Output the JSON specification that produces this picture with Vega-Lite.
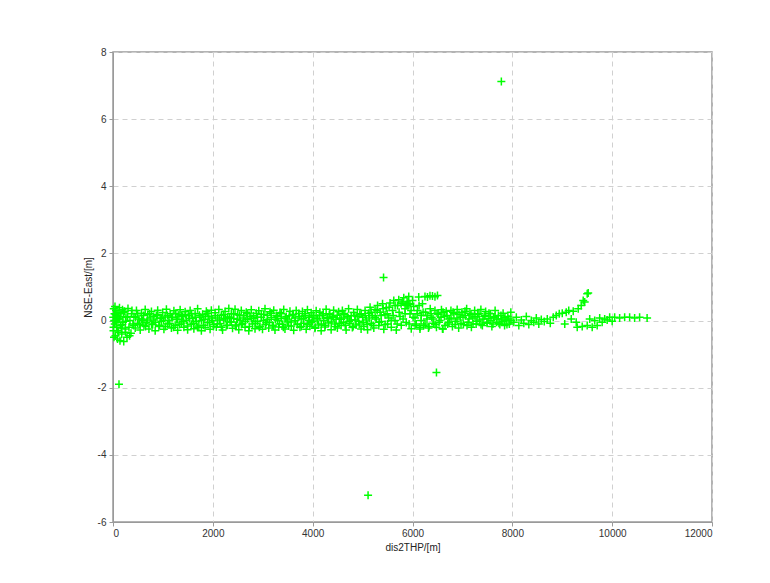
{
  "$schema": "https://vega.github.io/schema/vega-lite/v6.json",
  "width": 599,
  "height": 470,
  "autosize": "none",
  "padding": {"left": 113, "top": 52, "right": 58, "bottom": 61},
  "background": "white",
  "config": {
    "view": {"stroke": "#9a9a9a", "strokeWidth": 1.5},
    "axis": {
      "labelFont": "Liberation Sans",
      "titleFont": "Liberation Sans",
      "labelFontSize": 10,
      "titleFontSize": 10,
      "labelColor": "#333",
      "titleColor": "#222",
      "titleFontWeight": "normal",
      "domainColor": "#9a9a9a",
      "tickColor": "#9a9a9a",
      "tickSize": 4,
      "gridColor": "#d0d0d0",
      "gridDash": [5, 4],
      "gridWidth": 1
    }
  },
  "data": {"values": [
    {"d":5,"e":0.1},{"d":10,"e":-0.3},{"d":15,"e":0.35},{"d":20,"e":-0.5},{"d":30,"e":0.2},{"d":35,"e":-0.1},{"d":40,"e":0.42},{"d":50,"e":-0.45},{"d":55,"e":0.0},{"d":60,"e":0.3},{"d":70,"e":-0.2},{"d":80,"e":0.15},{"d":90,"e":-0.55},{"d":100,"e":0.25},{"d":110,"e":-0.35},{"d":120,"e":0.05},{"d":130,"e":0.38},{"d":140,"e":-0.6},{"d":150,"e":-0.15},{"d":160,"e":0.2},{"d":175,"e":-0.4},{"d":190,"e":0.32},{"d":200,"e":-0.05},{"d":215,"e":-0.62},{"d":230,"e":0.28},{"d":245,"e":-0.25},{"d":260,"e":0.1},{"d":280,"e":-0.5},{"d":300,"e":0.36},{"d":320,"e":-0.2},{"d":340,"e":0.0},{"d":360,"e":-0.38},{"d":380,"e":0.3},{"d":400,"e":-0.1},{"d":25,"e":0.0},{"d":65,"e":-0.05},{"d":95,"e":0.08},{"d":145,"e":0.12},{"d":185,"e":-0.12},{"d":250,"e":-0.02},
    {"d":420,"e":0.12},{"d":445,"e":-0.22},{"d":470,"e":0.3},{"d":495,"e":-0.08},{"d":520,"e":0.05},{"d":545,"e":-0.28},{"d":570,"e":0.22},{"d":595,"e":0.0},{"d":620,"e":-0.15},{"d":645,"e":0.33},{"d":670,"e":-0.05},{"d":695,"e":0.18},{"d":720,"e":-0.25},{"d":745,"e":0.08},{"d":770,"e":0.27},{"d":795,"e":-0.12},{"d":820,"e":0.02},{"d":845,"e":-0.3},{"d":870,"e":0.15},{"d":895,"e":0.31},{"d":920,"e":-0.18},{"d":945,"e":0.06},{"d":970,"e":-0.02},{"d":995,"e":0.24},
    {"d":1020,"e":-0.26},{"d":1045,"e":0.11},{"d":1070,"e":0.34},{"d":1095,"e":-0.1},{"d":1120,"e":0.0},{"d":1145,"e":0.2},{"d":1170,"e":-0.22},{"d":1195,"e":0.09},{"d":1220,"e":0.29},{"d":1245,"e":-0.14},{"d":1270,"e":0.03},{"d":1295,"e":-0.29},{"d":1320,"e":0.17},{"d":1345,"e":0.32},{"d":1370,"e":-0.07},{"d":1395,"e":0.12},{"d":1420,"e":-0.2},{"d":1445,"e":0.26},{"d":1470,"e":0.01},{"d":1495,"e":-0.27},{"d":1520,"e":0.14},{"d":1545,"e":0.3},{"d":1570,"e":-0.11},{"d":1595,"e":0.07},{"d":1620,"e":-0.24},{"d":1645,"e":0.21},{"d":1670,"e":-0.03},{"d":1695,"e":0.35},{"d":1720,"e":-0.16},{"d":1745,"e":0.1},{"d":1770,"e":-0.3},{"d":1795,"e":0.19},{"d":1820,"e":0.04},{"d":1845,"e":-0.21},{"d":1870,"e":0.28},{"d":1895,"e":-0.06},{"d":1920,"e":0.13},{"d":1945,"e":-0.26},{"d":1970,"e":0.31},{"d":1995,"e":0.0},
    {"d":2020,"e":-0.12},{"d":2045,"e":0.23},{"d":2070,"e":-0.19},{"d":2095,"e":0.08},{"d":2120,"e":0.33},{"d":2145,"e":-0.09},{"d":2170,"e":0.16},{"d":2195,"e":-0.28},{"d":2220,"e":0.02},{"d":2245,"e":0.27},{"d":2270,"e":-0.15},{"d":2295,"e":0.11},{"d":2320,"e":0.36},{"d":2345,"e":-0.04},{"d":2370,"e":0.2},{"d":2395,"e":-0.23},{"d":2420,"e":0.06},{"d":2445,"e":0.34},{"d":2470,"e":-0.13},{"d":2495,"e":0.18},{"d":2520,"e":-0.27},{"d":2545,"e":0.0},{"d":2570,"e":0.3},{"d":2595,"e":-0.08},{"d":2620,"e":0.14},{"d":2645,"e":-0.2},{"d":2670,"e":0.25},{"d":2695,"e":0.04},{"d":2720,"e":-0.3},{"d":2745,"e":0.12},{"d":2770,"e":0.32},{"d":2795,"e":-0.1},{"d":2820,"e":0.07},{"d":2845,"e":-0.24},{"d":2870,"e":0.22},{"d":2895,"e":-0.02},{"d":2920,"e":0.29},{"d":2945,"e":-0.17},{"d":2970,"e":0.1},{"d":2995,"e":-0.26},
    {"d":3020,"e":0.19},{"d":3045,"e":0.35},{"d":3070,"e":-0.06},{"d":3095,"e":0.03},{"d":3120,"e":-0.22},{"d":3145,"e":0.26},{"d":3170,"e":0.09},{"d":3195,"e":-0.14},{"d":3220,"e":0.31},{"d":3245,"e":-0.28},{"d":3270,"e":0.15},{"d":3295,"e":0.0},{"d":3320,"e":-0.19},{"d":3345,"e":0.24},{"d":3370,"e":0.06},{"d":3395,"e":-0.11},{"d":3420,"e":0.33},{"d":3445,"e":-0.25},{"d":3470,"e":0.12},{"d":3495,"e":0.02},{"d":3520,"e":-0.16},{"d":3545,"e":0.28},{"d":3570,"e":-0.04},{"d":3595,"e":0.17},{"d":3620,"e":-0.29},{"d":3645,"e":0.08},{"d":3670,"e":0.3},{"d":3695,"e":-0.12},{"d":3720,"e":0.21},{"d":3745,"e":-0.2},{"d":3770,"e":0.05},{"d":3795,"e":0.27},{"d":3820,"e":-0.08},{"d":3845,"e":0.14},{"d":3870,"e":-0.26},{"d":3895,"e":0.32},{"d":3920,"e":0.01},{"d":3945,"e":-0.17},{"d":3970,"e":0.23},{"d":3995,"e":-0.03},
    {"d":4020,"e":0.11},{"d":4045,"e":-0.23},{"d":4070,"e":0.29},{"d":4095,"e":0.07},{"d":4120,"e":-0.13},{"d":4145,"e":0.25},{"d":4170,"e":-0.3},{"d":4195,"e":0.16},{"d":4220,"e":0.0},{"d":4245,"e":-0.19},{"d":4270,"e":0.34},{"d":4295,"e":0.1},{"d":4320,"e":-0.07},{"d":4345,"e":0.2},{"d":4370,"e":-0.27},{"d":4395,"e":0.13},{"d":4420,"e":0.31},{"d":4445,"e":-0.1},{"d":4470,"e":0.04},{"d":4495,"e":-0.22},{"d":4520,"e":0.26},{"d":4545,"e":0.08},{"d":4570,"e":-0.15},{"d":4595,"e":0.3},{"d":4620,"e":-0.05},{"d":4645,"e":0.18},{"d":4670,"e":-0.28},{"d":4695,"e":0.12},{"d":4720,"e":0.35},{"d":4745,"e":-0.09},{"d":4770,"e":0.02},{"d":4795,"e":-0.21},{"d":4820,"e":0.24},{"d":4845,"e":0.15},{"d":4870,"e":-0.13},{"d":4895,"e":0.33},{"d":4920,"e":-0.02},{"d":4945,"e":0.19},{"d":4970,"e":-0.25},
    {"d":5000,"e":0.1},{"d":5025,"e":-0.18},{"d":5050,"e":0.3},{"d":5075,"e":0.02},{"d":5100,"e":-0.27},{"d":5125,"e":0.22},{"d":5150,"e":0.4},{"d":5175,"e":-0.08},{"d":5200,"e":0.14},{"d":5225,"e":-0.22},{"d":5250,"e":0.33},{"d":5275,"e":0.05},{"d":5300,"e":0.45},{"d":5325,"e":-0.15},{"d":5350,"e":0.25},{"d":5375,"e":-0.03},{"d":5400,"e":0.5},{"d":5425,"e":-0.26},{"d":5450,"e":0.17},{"d":5475,"e":0.38},{"d":5500,"e":-0.1},{"d":5525,"e":0.08},{"d":5550,"e":0.52},{"d":5575,"e":-0.2},{"d":5600,"e":0.3},{"d":5625,"e":0.6},{"d":5650,"e":0.0},{"d":5675,"e":-0.28},{"d":5700,"e":0.45},{"d":5725,"e":0.62},{"d":5750,"e":0.12},{"d":5775,"e":-0.14},{"d":5800,"e":0.55},{"d":5825,"e":0.68},{"d":5850,"e":0.35},{"d":5875,"e":-0.06},{"d":5900,"e":0.5},{"d":5925,"e":0.72},{"d":5950,"e":0.2},{"d":5975,"e":-0.24},{"d":6000,"e":0.6},{"d":6025,"e":0.42},{"d":6050,"e":0.08},{"d":6075,"e":-0.1},{"d":6100,"e":0.3},{"d":6125,"e":0.7},{"d":6150,"e":-0.2},{"d":6175,"e":0.15},{"d":6200,"e":0.5},
    {"d":6250,"e":0.72},{"d":6300,"e":0.7},{"d":6350,"e":0.74},{"d":6400,"e":0.73},{"d":6450,"e":0.71},{"d":6500,"e":0.75},{"d":5870,"e":0.48},{"d":5890,"e":0.45},{"d":5910,"e":0.5},{"d":5930,"e":0.47},
    {"d":6225,"e":-0.15},{"d":6260,"e":0.25},{"d":6290,"e":0.05},{"d":6320,"e":-0.22},{"d":6355,"e":0.35},{"d":6385,"e":0.1},{"d":6420,"e":-0.08},{"d":6450,"e":0.3},{"d":6480,"e":-0.2},{"d":6515,"e":0.18},{"d":6545,"e":0.0},{"d":6580,"e":0.32},{"d":6610,"e":-0.25},{"d":6640,"e":0.12},{"d":6675,"e":0.28},{"d":6705,"e":-0.1},{"d":6735,"e":0.05},{"d":6770,"e":0.3},{"d":6800,"e":-0.18},{"d":6830,"e":0.2},{"d":6865,"e":-0.02},{"d":6895,"e":0.33},{"d":6925,"e":-0.22},{"d":6960,"e":0.1},{"d":6990,"e":0.25},{"d":7020,"e":-0.12},{"d":7055,"e":0.15},{"d":7085,"e":0.35},{"d":7115,"e":-0.05},{"d":7150,"e":0.22},{"d":7180,"e":-0.2},{"d":7210,"e":0.08},{"d":7245,"e":0.3},{"d":7275,"e":-0.1},{"d":7305,"e":0.18},{"d":7340,"e":0.02},{"d":7370,"e":0.33},{"d":7400,"e":-0.15},{"d":7435,"e":0.12},{"d":7465,"e":0.27},{"d":7495,"e":-0.08},{"d":7530,"e":0.06},{"d":7560,"e":0.2},{"d":7590,"e":-0.18},{"d":7625,"e":0.1},{"d":7655,"e":0.3},{"d":7685,"e":-0.05},{"d":7720,"e":0.15},{"d":7750,"e":-0.12},{"d":7780,"e":0.05},{"d":7815,"e":0.22},{"d":7845,"e":-0.15},{"d":7875,"e":0.0},{"d":7910,"e":0.12},{"d":7940,"e":-0.1},{"d":7970,"e":0.25},{"d":6150,"e":-0.25},{"d":6600,"e":-0.24},
    {"d":8030,"e":-0.05},{"d":8080,"e":0.1},{"d":8130,"e":-0.15},{"d":8180,"e":0.02},{"d":8230,"e":-0.08},{"d":8280,"e":0.12},{"d":8330,"e":-0.12},{"d":8380,"e":0.0},{"d":8430,"e":-0.05},{"d":8480,"e":0.08},{"d":8530,"e":-0.1},{"d":8580,"e":0.03},{"d":8640,"e":-0.03},{"d":8700,"e":0.05},{"d":8760,"e":-0.08},{"d":8820,"e":0.1},{"d":8880,"e":0.15},{"d":8940,"e":0.2},{"d":9000,"e":0.22},{"d":9050,"e":-0.1},{"d":9080,"e":0.25},{"d":9130,"e":0.3},{"d":9180,"e":0.05},{"d":9220,"e":0.28},{"d":9280,"e":-0.05},{"d":9320,"e":0.35},{"d":9380,"e":0.45},{"d":9420,"e":0.6},{"d":9450,"e":0.55},{"d":9500,"e":0.8},{"d":9520,"e":0.82},{"d":9300,"e":-0.2},{"d":9400,"e":-0.18},{"d":9500,"e":-0.15},{"d":9600,"e":-0.2},{"d":9700,"e":-0.15},
    {"d":9550,"e":0.05},{"d":9650,"e":0.0},{"d":9750,"e":0.08},{"d":9850,"e":0.05},{"d":9950,"e":0.1},{"d":10050,"e":0.1},{"d":10150,"e":0.08},{"d":10250,"e":0.1},{"d":10350,"e":0.1},{"d":10450,"e":0.08},{"d":10550,"e":0.1},{"d":10700,"e":0.08},{"d":9800,"e":-0.05},{"d":9900,"e":0.02},{"d":10000,"e":-0.02},
    {"d":7780,"e":7.12},{"d":5420,"e":1.28},{"d":6480,"e":-1.55},{"d":5110,"e":-5.2},{"d":120,"e":-1.9},
    {"d":12,"e":-0.2},{"d":52,"e":0.18},{"d":92,"e":-0.3},{"d":132,"e":0.05},{"d":172,"e":-0.22},{"d":212,"e":0.25},{"d":252,"e":-0.35},{"d":292,"e":0.12},{"d":332,"e":-0.45},{"d":372,"e":0.2},{"d":412,"e":-0.15},{"d":452,"e":0.1},{"d":492,"e":0.2},{"d":532,"e":-0.12},{"d":572,"e":0.05},{"d":612,"e":0.15},{"d":652,"e":-0.18},{"d":692,"e":0.02},{"d":732,"e":0.2},{"d":772,"e":-0.1},{"d":812,"e":0.12},{"d":852,"e":-0.05},{"d":892,"e":0.18},{"d":932,"e":-0.14},{"d":972,"e":0.08},
    {"d":1012,"e":0.0},{"d":1052,"e":-0.18},{"d":1092,"e":0.15},{"d":1132,"e":-0.08},{"d":1172,"e":0.1},{"d":1212,"e":-0.2},{"d":1252,"e":0.22},{"d":1292,"e":0.04},{"d":1332,"e":-0.12},{"d":1372,"e":0.14},{"d":1412,"e":-0.02},{"d":1452,"e":0.18},{"d":1492,"e":-0.16},{"d":1532,"e":0.06},{"d":1572,"e":0.2},{"d":1612,"e":-0.08},{"d":1652,"e":0.1},{"d":1692,"e":-0.2},{"d":1732,"e":0.16},{"d":1772,"e":0.0},{"d":1812,"e":-0.14},{"d":1852,"e":0.12},{"d":1892,"e":0.22},{"d":1932,"e":-0.06},{"d":1972,"e":0.08},
    {"d":2012,"e":-0.18},{"d":2052,"e":0.14},{"d":2092,"e":-0.1},{"d":2132,"e":0.02},{"d":2172,"e":-0.2},{"d":2212,"e":0.18},{"d":2252,"e":0.06},{"d":2292,"e":-0.14},{"d":2332,"e":0.1},{"d":2372,"e":-0.04},{"d":2412,"e":0.2},{"d":2452,"e":-0.16},{"d":2492,"e":0.04},{"d":2532,"e":0.16},{"d":2572,"e":-0.12},{"d":2612,"e":0.08},{"d":2652,"e":-0.02},{"d":2692,"e":0.2},{"d":2732,"e":-0.18},{"d":2772,"e":0.06},{"d":2812,"e":0.14},{"d":2852,"e":-0.08},{"d":2892,"e":0.1},{"d":2932,"e":-0.2},{"d":2972,"e":0.18},
    {"d":3012,"e":0.0},{"d":3052,"e":-0.12},{"d":3092,"e":0.16},{"d":3132,"e":-0.06},{"d":3172,"e":0.22},{"d":3212,"e":-0.16},{"d":3252,"e":0.04},{"d":3292,"e":0.12},{"d":3332,"e":-0.1},{"d":3372,"e":0.2},{"d":3412,"e":-0.2},{"d":3452,"e":0.08},{"d":3492,"e":-0.04},{"d":3532,"e":0.14},{"d":3572,"e":-0.16},{"d":3612,"e":0.18},{"d":3652,"e":0.0},{"d":3692,"e":-0.1},{"d":3732,"e":0.12},{"d":3772,"e":-0.18},{"d":3812,"e":0.06},{"d":3852,"e":0.2},{"d":3892,"e":-0.12},{"d":3932,"e":0.1},{"d":3972,"e":-0.06},
    {"d":4012,"e":0.16},{"d":4052,"e":-0.2},{"d":4092,"e":0.02},{"d":4132,"e":0.14},{"d":4172,"e":-0.1},{"d":4212,"e":0.2},{"d":4252,"e":-0.14},{"d":4292,"e":0.06},{"d":4332,"e":0.18},{"d":4372,"e":-0.04},{"d":4412,"e":0.1},{"d":4452,"e":-0.18},{"d":4492,"e":0.16},{"d":4532,"e":-0.08},{"d":4572,"e":0.04},{"d":4612,"e":0.2},{"d":4652,"e":-0.14},{"d":4692,"e":0.08},{"d":4732,"e":-0.02},{"d":4772,"e":0.14},{"d":4812,"e":-0.18},{"d":4852,"e":0.02},{"d":4892,"e":0.12},{"d":4932,"e":-0.1},{"d":4972,"e":0.2},
    {"d":5012,"e":-0.05},{"d":5052,"e":0.15},{"d":5092,"e":-0.12},{"d":5132,"e":0.08},{"d":5172,"e":0.25},{"d":5212,"e":-0.15},{"d":5252,"e":0.1},{"d":5292,"e":0.3},{"d":5332,"e":-0.05},{"d":5372,"e":0.15},{"d":5412,"e":0.35},{"d":5452,"e":-0.12},{"d":5492,"e":0.2},{"d":5532,"e":0.4},{"d":5572,"e":0.0},{"d":5612,"e":0.15},{"d":5652,"e":0.45},{"d":5692,"e":-0.1},{"d":5732,"e":0.25},{"d":5772,"e":0.5},{"d":5812,"e":0.05},{"d":5852,"e":0.2},{"d":5892,"e":0.55},{"d":5932,"e":-0.1},{"d":5972,"e":0.3},
    {"d":6012,"e":0.1},{"d":6052,"e":-0.15},{"d":6092,"e":0.2},{"d":6132,"e":0.45},{"d":6172,"e":0.0},{"d":6212,"e":0.25},{"d":6252,"e":-0.1},{"d":6292,"e":0.15},{"d":6332,"e":-0.18},{"d":6372,"e":0.2},{"d":6412,"e":0.05},{"d":6452,"e":-0.12},{"d":6492,"e":0.22},{"d":6532,"e":-0.05},{"d":6572,"e":0.1},{"d":6612,"e":0.25},{"d":6652,"e":-0.15},{"d":6692,"e":0.15},{"d":6732,"e":-0.05},{"d":6772,"e":0.08},{"d":6812,"e":0.25},{"d":6852,"e":-0.12},{"d":6892,"e":0.05},{"d":6932,"e":0.18},{"d":6972,"e":-0.08},
    {"d":7012,"e":0.1},{"d":7052,"e":0.28},{"d":7092,"e":-0.15},{"d":7132,"e":0.05},{"d":7172,"e":0.18},{"d":7212,"e":-0.1},{"d":7252,"e":0.12},{"d":7292,"e":-0.02},{"d":7332,"e":0.2},{"d":7372,"e":-0.12},{"d":7412,"e":0.05},{"d":7452,"e":0.15},{"d":7492,"e":-0.05},{"d":7532,"e":0.22},{"d":7572,"e":0.0},{"d":7612,"e":-0.1},{"d":7652,"e":0.12},{"d":7692,"e":0.05},{"d":7732,"e":-0.08},{"d":7772,"e":0.15},{"d":7812,"e":-0.02},{"d":7852,"e":0.1},{"d":7892,"e":-0.12},{"d":7932,"e":0.05},{"d":7972,"e":0.0}
  ]},
  "mark": {
    "type": "point",
    "shape": "M-1,0H1M0,-1V1",
    "filled": false,
    "stroke": "#00ff00",
    "strokeWidth": 1.5,
    "size": 64,
    "opacity": 1
  },
  "encoding": {
    "x": {
      "field": "d",
      "type": "quantitative",
      "title": "dis2THP/[m]",
      "scale": {"domain": [0, 12000], "nice": false, "zero": false},
      "axis": {"values": [0, 2000, 4000, 6000, 8000, 10000, 12000], "labelExpr": "datum.value + ''", "labelPadding": 2, "titlePadding": 4}
    },
    "y": {
      "field": "e",
      "type": "quantitative",
      "title": "NSE-East/[m]",
      "scale": {"domain": [-6, 8], "nice": false, "zero": false},
      "axis": {"values": [-6, -4, -2, 0, 2, 4, 6, 8], "labelExpr": "datum.value + ''", "labelPadding": 3, "titlePadding": 4}
    }
  }
}
